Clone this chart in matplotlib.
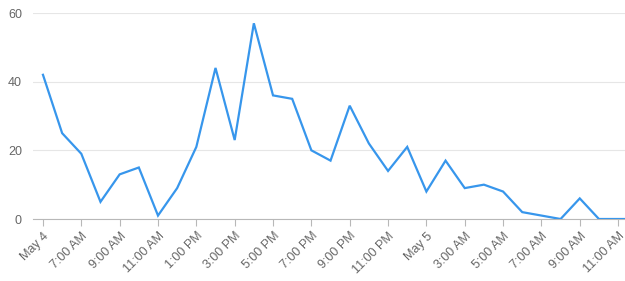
import matplotlib
matplotlib.use("Agg")
import matplotlib.pyplot as plt

values = [42, 25, 19, 5, 13, 15, 1, 9, 21, 44, 23, 57, 36, 35, 20, 17, 33, 22, 14, 21,
          8, 17, 9, 10, 8, 2, 1, 0, 6, 0, 0, 0]
tick_labels = ["May 4", "7:00 AM", "9:00 AM", "11:00 AM", "1:00 PM", "3:00 PM", "5:00 PM",
               "7:00 PM", "9:00 PM", "11:00 PM", "May 5", "3:00 AM", "5:00 AM", "7:00 AM",
               "9:00 AM", "11:00 AM"]
y_ticks = [0, 20, 40, 60]

plt.rcParams['font.family'] = ['Liberation Sans', 'DejaVu Sans']
fig = plt.figure(figsize=(6.25, 2.81), dpi=100)
ax = fig.add_axes([33/625, 62/281, 1 - 33/625, (219 - 13)/281])

x = list(range(len(values)))
ax.plot(x, values, color='#3796ec', lw=1.6, solid_joinstyle='miter', clip_on=True, zorder=3)

ax.set_xlim(-0.52, 30.36)
ax.set_ylim(0, 60)
ax.set_yticks(y_ticks)
ax.set_xticks(list(range(0, 31, 2)))
ax.set_xticklabels(tick_labels, rotation=45, ha='right', rotation_mode='anchor')
for s in ['top', 'right', 'left']:
    ax.spines[s].set_visible(False)
ax.spines['bottom'].set_color('#b8b8b8')
ax.spines['bottom'].set_linewidth(0.8)
ax.grid(axis='y', color='#e6e6e6', lw=0.8)
ax.set_axisbelow(True)
ax.tick_params(axis='y', length=0, pad=8, labelcolor='#666666', labelsize=9)
ax.tick_params(axis='x', length=5, color='#b8b8b8', width=0.8, pad=3, labelcolor='#666666', labelsize=9)

fig.savefig('out.png', dpi=100)
